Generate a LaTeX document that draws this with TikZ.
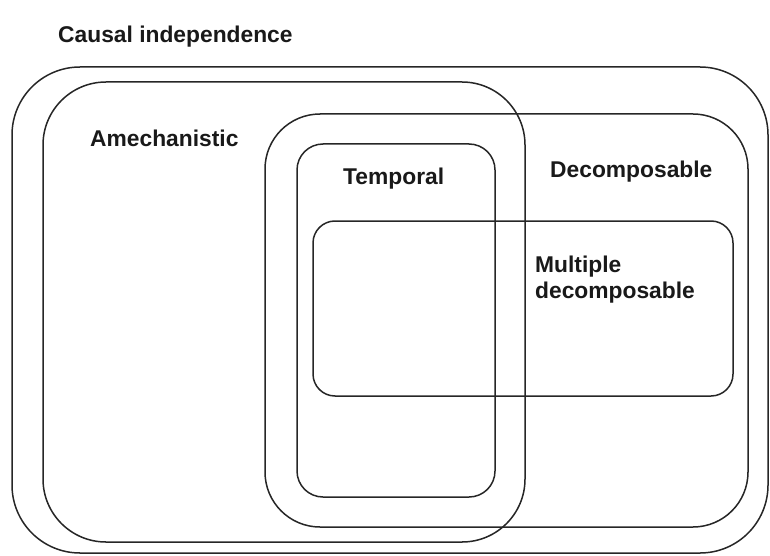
\documentclass[tikz,border=0pt]{standalone}
\usepackage{fontspec}
\setmainfont{Liberation Sans}
\begin{document}
\begin{tikzpicture}[x=1pt, y=-1pt,
  setbox/.style={draw=black!85, line width=1.5pt},
  setlabel/.style={anchor=base west, inner sep=0pt, font=\bfseries\fontsize{22.8}{26}\selectfont, text=black!90}]
  \useasboundingbox (0,0) rectangle (770,556);
  % nested sets
  \draw[setbox, rounded corners=68pt] (12,67) rectangle (768,553);
  \draw[setbox, rounded corners=63pt] (43,82) rectangle (525,542);
  \draw[setbox, rounded corners=55pt] (265,114) rectangle (748,527);
  \draw[setbox, rounded corners=26pt] (297,144) rectangle (495,497);
  \draw[setbox, rounded corners=22pt] (313,221) rectangle (733,396);
  % set names
  \node[setlabel] (causal) at (58,43) {Causal independence};
  \node[setlabel] (amech) at (90,147) {Amechanistic};
  \node[setlabel] (temporal) at (343,185) {Temporal};
  \node[setlabel] (decomp) at (550,178) {Decomposable};
  \node[setlabel, align=left] (multi) at (535,298) {Multiple\\decomposable};
\end{tikzpicture}
\end{document}
